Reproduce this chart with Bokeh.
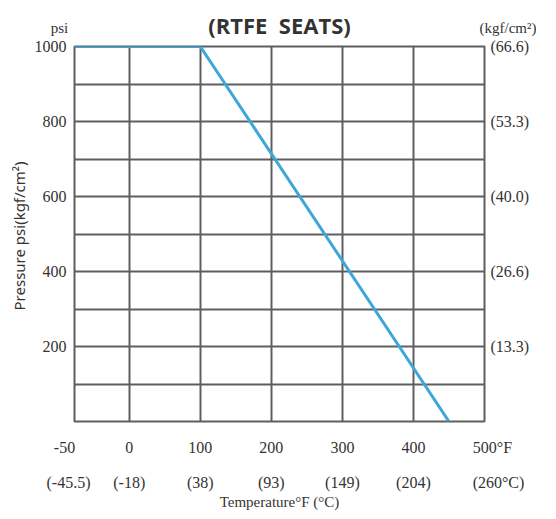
from bokeh.plotting import figure
from bokeh.models import (Range1d, LinearAxis, FixedTicker)
from bokeh.embed import file_html
from bokeh.resources import INLINE

# ---- data -------------------------------------------------------------
temp_f = [-50, 100, 450]                 # temperature points (°F)
pressure_psi = [1000, 1000, 0]           # rated pressure (psi)

x_ticks_f = [-50, 0, 100, 200, 300, 400, 500]
x_labels_f = ["-50", "0", "100", "200", "300", "400", "500°F"]
x_labels_c = ["(-45.5)", "(-18)", "(38)", "(93)", "(149)", "(204)", "(260°C)"]

y_ticks = [200, 400, 600, 800, 1000]
y_labels_psi = ["200", "400", "600", "800", "1000"]
y_labels_kgf = ["(13.3)", "(26.6)", "(40.0)", "(53.3)", "(66.6)"]
y_grid = [0, 100, 200, 300, 400, 500, 600, 700, 800, 900, 1000]

NB = "\u00a0"
title_text = "(RTFE" + NB + " SEATS)"
unit_left = "psi"
unit_right = "(kgf/cm²)"

# the chart's temperature axis is stretched below 0 °F
SUB_ZERO = 1.54


def fpos(t):
    return int(round(t * SUB_ZERO)) if t < 0 else t


x_pos = [fpos(t) for t in temp_f]
tick_pos = [fpos(t) for t in x_ticks_f]

SERIF = "Liberation Serif"
TXT = "#333333"
GRID = "#5e5e5e"

p = figure(frame_width=410, frame_height=375,
           min_border_left=74, min_border_top=46, min_border_right=52,
           min_border_bottom=0,
           x_range=Range1d(tick_pos[0], tick_pos[-1]),
           y_range=Range1d(0, 1000),
           x_axis_location=None, y_axis_location=None,
           output_backend="svg", toolbar_location=None)

p.outline_line_color = GRID
p.outline_line_width = 2
p.outline_line_alpha = 1

p.xgrid.ticker = FixedTicker(ticks=tick_pos)
p.ygrid.ticker = FixedTicker(ticks=y_grid)
for g in (p.xgrid, p.ygrid):
    g.grid_line_color = GRID
    g.grid_line_width = 2
    g.grid_line_alpha = 1


def style_axis(ax, size="16px"):
    ax.axis_line_color = None
    ax.major_tick_line_color = None
    ax.minor_tick_line_color = None
    ax.major_tick_in = 0
    ax.major_tick_out = 0
    ax.major_label_text_font = SERIF
    ax.major_label_text_font_size = size
    ax.major_label_text_color = TXT


# top: unit captions + chart title
ax_t = LinearAxis(ticker=FixedTicker(ticks=[tick_pos[0], tick_pos[-1]]),
                  major_label_overrides={tick_pos[0]: unit_left + NB * 8,
                                         tick_pos[-1]: NB * 16 + unit_right},
                  axis_label=title_text)
style_axis(ax_t, "15px")
ax_t.major_label_standoff = 11
ax_t.axis_label_standoff = -23
ax_t.axis_label_text_font = "Open Sans"
ax_t.axis_label_text_font_size = "22px"
ax_t.axis_label_text_font_style = "bold"
ax_t.axis_label_text_color = TXT
p.add_layout(ax_t, "above")

# left psi axis
ax_l = LinearAxis(ticker=FixedTicker(ticks=y_ticks),
                  major_label_overrides=dict(zip(y_ticks, y_labels_psi)),
                  axis_label="Pressure  psi(kgf/cm²)")
style_axis(ax_l)
ax_l.major_label_standoff = 8
ax_l.axis_label_standoff = 3
ax_l.axis_label_text_font = "Noto Sans"
ax_l.axis_label_text_font_size = "15px"
ax_l.axis_label_text_font_style = "normal"
ax_l.axis_label_text_color = TXT
p.add_layout(ax_l, "left")

# right kgf/cm2 axis
ax_r = LinearAxis(ticker=FixedTicker(ticks=y_ticks),
                  major_label_overrides=dict(zip(y_ticks, y_labels_kgf)))
style_axis(ax_r)
ax_r.major_label_standoff = 6
p.add_layout(ax_r, "right")

# bottom °F row
f_text = list(x_labels_f)
f_text[0] = f_text[0] + NB * 5
f_text[-1] = NB * 4 + f_text[-1]
ax_f = LinearAxis(ticker=FixedTicker(ticks=tick_pos),
                  major_label_overrides=dict(zip(tick_pos, f_text)))
style_axis(ax_f)
ax_f.major_label_standoff = 17
p.add_layout(ax_f, "below")

# bottom °C row
c_text = list(x_labels_c)
c_text[0] = c_text[0] + NB * 3
c_text[-1] = NB * 7 + c_text[-1]
ax_c = LinearAxis(ticker=FixedTicker(ticks=tick_pos),
                  major_label_overrides=dict(zip(tick_pos, c_text)),
                  axis_label="Temperature°F (°C)")
style_axis(ax_c)
ax_c.major_label_standoff = 15
ax_c.axis_label_standoff = 0
ax_c.axis_label_text_font = SERIF
ax_c.axis_label_text_font_size = "15px"
ax_c.axis_label_text_font_style = "normal"
ax_c.axis_label_text_color = TXT
p.add_layout(ax_c, "below")

# rating curve
p.line(x_pos, pressure_psi, line_color="#3ea7d8", line_width=3)

p.background_fill_color = "white"
p.border_fill_color = "white"

open("out.html", "w").write(file_html(p, INLINE))
